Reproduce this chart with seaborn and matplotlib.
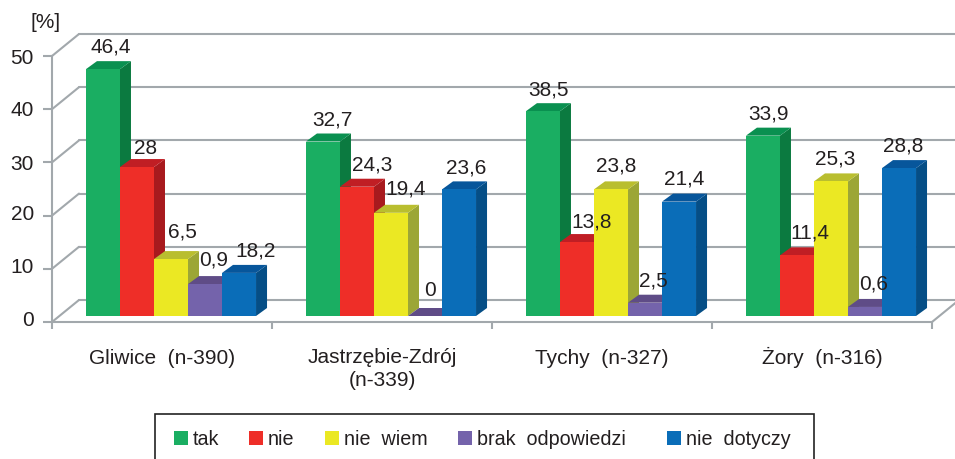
import matplotlib
matplotlib.use("Agg")
import matplotlib.pyplot as plt
from matplotlib.patches import Patch, Polygon, Rectangle
from matplotlib.transforms import ScaledTranslation
import pandas as pd
import seaborn as sns

# ---- data -----------------------------------------------------------------
categories = ["Gliwice  (n-390)", "Jastrzębie-Zdrój\n(n-339)", "Tychy  (n-327)", "Żory  (n-316)"]
series = ["tak", "nie", "nie  wiem", "brak  odpowiedzi", "nie  dotyczy"]
# bar heights as they are drawn in the picture
tak_values = [46.4, 32.8, 38.5, 33.9]
nie_values = [28.0, 24.3, 13.9, 11.4]
niewiem_values = [10.7, 19.4, 23.8, 25.3]
brak_values = [6.0, 0.0, 2.5, 1.7]
dotyczy_values = [8.1, 23.8, 21.5, 27.8]
# value labels as they are printed in the picture
tak_labels = ["46,4", "32,7", "38,5", "33,9"]
nie_labels = ["28", "24,3", "13,8", "11,4"]
niewiem_labels = ["6,5", "19,4", "23,8", "25,3"]
brak_labels = ["0,9", "0", "2,5", "0,6"]
dotyczy_labels = ["18,2", "23,6", "21,4", "28,8"]
y_ticks = [0, 10, 20, 30, 40, 50]

all_values = [tak_values, nie_values, niewiem_values, brak_values, dotyczy_values]
all_labels = [tak_labels, nie_labels, niewiem_labels, brak_labels, dotyczy_labels]

# ---- style ----------------------------------------------------------------
front_colors = ["#1AAE62", "#EE2E28", "#EBE823", "#7463AB", "#0A6DB8"]
top_colors = ["#0A9050", "#C01E24", "#B9BE2F", "#5F4C87", "#07569B"]
side_colors = ["#0B7A40", "#A81A1E", "#9CA636", "#56447F", "#054E86"]
label_dx = [[8, 9, 6, 6], [9, 15, 15, 13], [11, 15, 5, 4], [9, 5, 8, 9], [17, 7, 5, 4]]
label_dy = [[22, 22, 21, 22], [19, 22, 20, 22], [27, 24, 23, 22], [24, 25, 22, 23], [22, 21, 23, 22]]
ytick_label_shift = [4, 3, 3, 0, 1, -1]
xtick_label_shift = [0, -22, 0, 0]
GRID = "#A2A8AC"
TEXT = "#231F20"
FS = 15
LEG_FS = 14.2
PX = 72 / 100  # one pixel in points

sns.set_theme(style="white")
plt.rcParams["font.family"] = ["Liberation Sans", "DejaVu Sans"]
plt.rcParams["text.color"] = TEXT

W, H = 955, 459
fig = plt.figure(figsize=(W / 100, H / 100), dpi=100)
L, R, B, T = 52, 932, 322, 56
ax = fig.add_axes([L / W, 1 - B / H, (R - L) / W, (B - T) / H])

df = pd.DataFrame(
    [
        {"miasto": c, "seria": s, "wartosc": all_values[j][i]}
        for j, s in enumerate(series)
        for i, c in enumerate(categories)
    ]
)
sns.barplot(
    data=df, x="miasto", y="wartosc", hue="seria", order=categories, hue_order=series,
    palette=front_colors, width=0.773, gap=0, saturation=1, legend=False, ax=ax,
    errorbar=None, linewidth=0,
)
ax.set_xlim(-0.5, 3.5)
ax.set_ylim(0, 50)
ax.set_xlabel("")
ax.set_ylabel("")

# pixel → data conversions
ux = 4 / (R - L)
uy = 50 / (B - T)

# bars stand on the floor, between front edge and back wall
SHIFT_X, SHIFT_Y = 9 * ux, 6 * uy
DEPTH_X, DEPTH_Y = 11 * ux, 8 * uy
WALL_X, WALL_Y = 27 * ux, 22 * uy

for j, cont in enumerate(ax.containers):
    for i, bar in enumerate(cont.patches):
        x0 = bar.get_x() + SHIFT_X
        w = bar.get_width()
        h = bar.get_height()
        y0 = SHIFT_Y
        y1 = y0 + h
        bar.set_x(x0)
        bar.set_y(y0)
        z = 3 + (i * 5 + j) * 0.1
        bar.set_zorder(z + 0.05)
        bar.set_clip_on(False)
        ax.add_patch(Polygon(
            [(x0 + w, y0), (x0 + w + DEPTH_X, y0 + DEPTH_Y), (x0 + w + DEPTH_X, y1 + DEPTH_Y), (x0 + w, y1)],
            closed=True, fc=side_colors[j], ec="none", zorder=z))
        ax.add_patch(Polygon(
            [(x0, y1), (x0 + DEPTH_X, y1 + DEPTH_Y), (x0 + w + DEPTH_X, y1 + DEPTH_Y), (x0 + w, y1)],
            closed=True, fc=top_colors[j], ec="none", zorder=z + 0.01))
        ax.annotate(
            all_labels[j][i], xy=(x0 + w / 2, y1),
            xytext=(label_dx[j][i] * PX, label_dy[j][i] * PX), textcoords="offset points",
            ha="center", va="center", fontsize=FS, color=TEXT, zorder=20,
        )

# wall and floor lines
lw = 1.5
for v in y_ticks:
    ax.plot([-0.5, -0.5 + WALL_X], [v, v + WALL_Y], color=GRID, lw=lw, clip_on=False, zorder=1)
    ax.plot([-0.5 + WALL_X, 3.5 + WALL_X], [v + WALL_Y, v + WALL_Y], color=GRID, lw=lw, clip_on=False, zorder=1)
ax.plot([3.5, 3.5 + WALL_X], [0, WALL_Y], color=GRID, lw=lw, clip_on=False, zorder=1)

for s in ["top", "right"]:
    ax.spines[s].set_visible(False)
for s in ["left", "bottom"]:
    ax.spines[s].set_color(GRID)
    ax.spines[s].set_linewidth(lw)
    ax.spines[s].set_zorder(2)

ax.patch.set_alpha(0)
ax.set_yticks(y_ticks)
ax.set_xticks([-0.5, 0.5, 1.5, 2.5, 3.5], minor=True)
ax.set_xticks([0, 1, 2, 3], categories)
ax.tick_params(axis="y", which="major", left=True, length=6.5, width=lw, color=GRID,
               pad=6.5, labelsize=FS, labelcolor=TEXT)
ax.tick_params(axis="x", which="major", bottom=False, length=0, pad=30.5, labelsize=FS, labelcolor=TEXT)
ax.tick_params(axis="x", which="minor", bottom=True, length=5, width=lw, color=GRID)
for t, s in zip(ax.get_xticklabels(), xtick_label_shift):
    t.set_linespacing(1.3)
    t.set_verticalalignment("baseline")
    t.set_transform(t.get_transform() + ScaledTranslation(0, s * PX / 72, fig.dpi_scale_trans))
for t, s in zip(ax.get_yticklabels(), ytick_label_shift):
    t.set_transform(t.get_transform() + ScaledTranslation(0, s * PX / 72, fig.dpi_scale_trans))

fig.text(46 / W, 1 - 22 / H, "[%]", ha="center", va="center", fontsize=FS, color=TEXT)

# legend with its frame running off the bottom of the page
fig.add_artist(Rectangle((155 / W, -0.05), (814 - 155) / W, 1 - 414 / H + 0.05,
                         transform=fig.transFigure, fc="white", ec="#222222", lw=1.2))
legend_labels = ["tak", "nie", "nie  wiem", "brak  odpowiedzi  ", "nie  dotyczy"]
handles = [Patch(fc=c, ec="none", label=s) for c, s in zip(front_colors, legend_labels)]
leg = fig.legend(
    handles=handles, loc="upper left", bbox_to_anchor=(156 / W, 1 - 412 / H), ncols=5,
    fontsize=LEG_FS, frameon=False, borderpad=0.9, borderaxespad=0,
    handlelength=0.7, handleheight=0.7, handletextpad=0.25, columnspacing=1.55,
)

fig.savefig("out.png", dpi=100)
